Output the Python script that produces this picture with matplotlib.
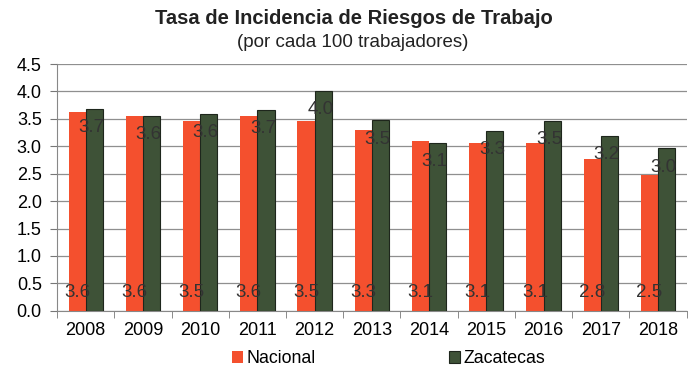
import matplotlib.pyplot as plt
import numpy as np

plt.rcParams["font.family"] = ["Liberation Sans", "DejaVu Sans"]

years = ["2008", "2009", "2010", "2011", "2012", "2013",
         "2014", "2015", "2016", "2017", "2018"]
nacional = [3.62, 3.56, 3.46, 3.56, 3.46, 3.30, 3.10, 3.06, 3.06, 2.76, 2.47]
zacatecas = [3.68, 3.56, 3.59, 3.66, 4.01, 3.47, 3.06, 3.28, 3.46, 3.19, 2.96]

RED = "#F4502E"
GREEN = "#3E5237"
LABEL_COLOR = "#333333"

fig = plt.figure(figsize=(6.88, 3.70), dpi=100)
ax = fig.add_axes([0.083, 0.16, 0.915, 0.667])

x = np.arange(len(years))
w = 0.30
b_nac = ax.bar(x - w / 2, nacional, w, color=RED, zorder=3, label="Nacional")
b_zac = ax.bar(x + w / 2, zacatecas, w, color=GREEN, edgecolor="#1e261c",
               linewidth=0.8, zorder=3, label="Zacatecas")

# Nacional values sit at the bar base, Zacatecas values just below the top
for rect, v in zip(b_nac.patches, nacional):
    ax.text(rect.get_x() + rect.get_width() / 2, 0.33, f"{v:.1f}",
            ha="center", va="center", fontsize=13.5, color=LABEL_COLOR, zorder=4)
for rect, v in zip(b_zac.patches, zacatecas):
    ax.text(rect.get_x() + rect.get_width() / 2 - 0.05, v - 0.34, f"{v:.1f}",
            ha="center", va="center", fontsize=13.5, color=LABEL_COLOR, zorder=4)

ax.set_ylim(0, 4.5)
ax.set_xlim(-0.5, len(years) - 0.5)
ax.set_yticks(np.arange(0, 4.51, 0.5))
ax.set_yticklabels([f"{v:.1f}" for v in np.arange(0, 4.51, 0.5)], fontsize=13)
ax.set_xticks(x)
ax.set_xticklabels(years, fontsize=13)
ax.set_xticks(np.arange(-0.5, len(years), 1), minor=True)
ax.tick_params(axis="x", which="major", length=0, pad=8)
ax.tick_params(axis="x", which="minor", length=5, color="#777777")
ax.tick_params(axis="y", length=5, color="#777777", pad=6)

ax.grid(axis="y", color="#8f8f8f", linewidth=0.9, zorder=0)
for side in ("top", "right"):
    ax.spines[side].set_visible(False)
ax.spines["left"].set_color("#888888")
ax.spines["bottom"].set_color("#888888")

fig.text(0.515, 0.949, "Tasa de Incidencia de Riesgos de Trabajo",
         ha="center", va="center", fontsize=14.5, fontweight="bold", color="#222222")
fig.text(0.513, 0.884, "(por cada 100 trabajadores)",
         ha="center", va="center", fontsize=13.5, color="#222222")

fig.legend(handles=[b_nac, b_zac], labels=["Nacional", "Zacatecas"],
           loc="center", bbox_to_anchor=(0.565, 0.03), ncol=2, frameon=False,
           fontsize=12.8, handlelength=0.6, handleheight=0.6, handletextpad=0.2,
           columnspacing=7.5)

fig.savefig("out.png", dpi=100)
